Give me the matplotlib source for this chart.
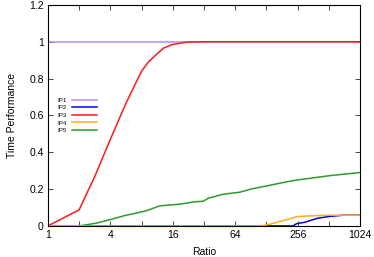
import numpy as np
import matplotlib
matplotlib.use('Agg')
import matplotlib.pyplot as plt
from matplotlib.ticker import FixedLocator, NullFormatter

plt.rcParams['font.family'] = ['Liberation Sans', 'DejaVu Sans']

# data
ip1_x = [1, 1024]
ip1_y = [1.0, 1.0]

ip2_x = [1, 230, 250, 300, 400, 525, 700, 1024]
ip2_y = [0.0, 0.0, 0.012, 0.02, 0.042, 0.052, 0.058, 0.058]

ip3_x = [1, 2, 2.84, 4, 5.7, 8, 9.3, 11.6, 13, 15.6, 22, 32, 1024]
ip3_y = [0.0, 0.087, 0.27, 0.47, 0.67, 0.84, 0.89, 0.94, 0.965, 0.984, 0.998, 1.0, 1.0]

ip4_x = [1, 115, 140, 200, 256, 400, 525, 1024]
ip4_y = [0.0, 0.0, 0.01, 0.034, 0.051, 0.056, 0.058, 0.058]

ip5_x = [1, 2, 2.95, 4.1, 5.5, 7.7, 9.2, 12, 18.8, 25.2, 31.5, 35.2, 49, 71, 89,
         128, 173, 232, 362, 525, 1024]
ip5_y = [0.0, 0.0, 0.015, 0.036, 0.056, 0.074, 0.085, 0.109, 0.118, 0.130, 0.134,
         0.150, 0.172, 0.183, 0.199, 0.217, 0.232, 0.246, 0.261, 0.273, 0.29]

xticks = [1, 4, 16, 64, 256, 1024]
xminor = [2, 8, 32, 128, 512]
yticks = [0, 0.2, 0.4, 0.6, 0.8, 1.0, 1.2]
ytick_labels = ['0', '0.2', '0.4', '0.6', '0.8', '1', '1.2']

# plot
fig = plt.figure(figsize=(3.74, 2.57), dpi=100)
ax = fig.add_axes([0.128, 0.121, 0.835, 0.86])

lw = 1.1
ax.plot(ip1_x, ip1_y, color='#b58cf0', lw=lw, label='IP1')
ax.plot(ip2_x, ip2_y, color='#0000e6', lw=lw, label='IP2')
ax.plot(ip3_x, ip3_y, color='#ff1a1a', lw=lw, label='IP3')
ax.plot(ip5_x, ip5_y, color='#2e9a2e', lw=lw, label='IP5')
ax.plot(ip4_x, ip4_y, color='#ffa820', lw=lw, label='IP4')

ax.set_xscale('log', base=2)
ax.set_xlim(1, 1024)
ax.set_ylim(0, 1.2)
ax.set_xticks(xticks)
ax.set_xticklabels([str(t) for t in xticks])
ax.xaxis.set_minor_locator(FixedLocator(xminor))
ax.xaxis.set_minor_formatter(NullFormatter())
ax.set_yticks(yticks)
ax.set_yticklabels(ytick_labels)
ax.yaxis.set_minor_locator(FixedLocator([]))

ax.tick_params(which='both', direction='in', top=True, right=True,
               length=3.5, width=0.5, labelsize=7.5, pad=3)
for s in ax.spines.values():
    s.set_linewidth(0.8)

ax.set_xlabel('Ratio', fontsize=7.5, labelpad=5)
ax.set_ylabel('Time Performance', fontsize=7.5, labelpad=9)

handles, labels = ax.get_legend_handles_labels()
order = [0, 1, 2, 4, 3]
leg = ax.legend([handles[i] for i in order], [labels[i] for i in order],
                loc='upper left', bbox_to_anchor=(0.02, 0.595), frameon=False,
                fontsize=4.5, markerfirst=False, handlelength=4.0,
                handletextpad=0.8, labelspacing=0.35, borderpad=0)

fig.savefig('out.png', dpi=100)
